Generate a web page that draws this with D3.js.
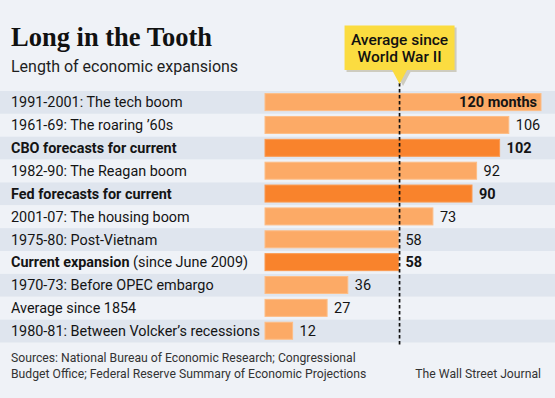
<!DOCTYPE html>
<html>
<head>
<meta charset="utf-8">
<script src="https://cdn.jsdelivr.net/npm/d3@7.9.0/dist/d3.min.js"></script>
<style>
  body { margin: 0; background: #eff2f7; }
  svg { display: block; font-family: Roboto, sans-serif; }
</style>
</head>
<body>
<svg id="chart" width="555" height="398"></svg>
<script>
// chart data
const categories = [
  '1991-2001: The tech boom',
  '1961-69: The roaring \u201960s',
  'CBO forecasts for current',
  '1982-90: The Reagan boom',
  'Fed forecasts for current',
  '2001-07: The housing boom',
  '1975-80: Post-Vietnam',
  'Current expansion',
  '1970-73: Before OPEC embargo',
  'Average since 1854',
  '1980-81: Between Volcker\u2019s recessions'
];
const notes = ['', '', '', '', '', '', '', ' (since June 2009)', '', '', ''];
const months = [120, 106, 102, 92, 90, 73, 58, 58, 36, 27, 12];
const highlighted = [false, false, true, false, true, false, false, true, false, false, false];
const avgSinceWWII = 58.5;

const svg = d3.select('#chart');
const W = 555;

let x = d3.scaleLinear().domain([0, 120]).range([265, 541]);
let y = d3.scaleBand().domain(d3.range(categories.length)).range([91, 342.5]);

// row stripes
svg.selectAll('rect.stripe')
  .data(categories)
  .join('rect')
  .attr('class', 'stripe')
  .attr('x', 0)
  .attr('y', (d, i) => y(i))
  .attr('width', W)
  .attr('height', y.bandwidth())
  .attr('fill', (d, i) => i % 2 === 0 ? '#dfe5ee' : '#eff2f7');

// bars
svg.selectAll('rect.bar')
  .data(months)
  .join('rect')
  .attr('class', 'bar')
  .attr('x', x(0))
  .attr('y', (d, i) => y(i) + 2.6)
  .attr('width', d => x(d) - x(0))
  .attr('height', 17)
  .attr('fill', (d, i) => highlighted[i] ? '#f9832c' : '#fcaa66')
  .attr('stroke', (d, i) => highlighted[i] ? '#fb9a50' : '#fdbd86')
  .attr('stroke-width', 1);

// category labels
let labels = svg.selectAll('text.cat')
  .data(categories)
  .join('text')
  .attr('class', 'cat')
  .attr('x', 11)
  .attr('y', (d, i) => y(i) + y.bandwidth() / 2 + 5)
  .attr('font-size', 14.4)
  .attr('fill', '#141414');
labels.append('tspan')
  .attr('font-weight', (d, i) => highlighted[i] ? 700 : 400)
  .text(d => d);
labels.append('tspan')
  .text((d, i) => notes[i]);

// value labels
svg.selectAll('text.val')
  .data(months)
  .join('text')
  .attr('class', 'val')
  .attr('x', (d, i) => i === 0 ? x(d) - 4 : x(d) + 7)
  .attr('y', (d, i) => y(i) + y.bandwidth() / 2 + 5)
  .attr('text-anchor', (d, i) => i === 0 ? 'end' : 'start')
  .attr('font-size', 14.5)
  .attr('font-weight', (d, i) => (i === 0 || highlighted[i]) ? 700 : 400)
  .attr('fill', '#141414')
  .text((d, i) => i === 0 ? d + ' months' : d);

// average line
const ax = x(avgSinceWWII);
svg.append('line')
  .attr('x1', ax).attr('x2', ax)
  .attr('y1', 83).attr('y2', 346)
  .attr('stroke', '#111')
  .attr('stroke-width', 1.7)
  .attr('stroke-dasharray', '3.5,2.5');

// callout
const box = { w: 110, top: 25.5, bottom: 70 };
let callout = svg.append('g');
callout.append('path')
  .attr('d', `M${ax - box.w / 2 + 2},${box.top + 2}h${box.w}v${box.bottom - box.top}h${-(box.w / 2 - 9)}l-7.5,14l-7.5,-14h${-(box.w / 2 - 6)}z`)
  .attr('fill', '#b8b39a')
  .attr('opacity', 0.6);
callout.append('path')
  .attr('d', `M${ax - box.w / 2},${box.top}h${box.w}v${box.bottom - box.top}h${-(box.w / 2 - 7.5)}l-7.5,14l-7.5,-14h${-(box.w / 2 - 7.5)}z`)
  .attr('fill', '#fbdc40');
callout.selectAll('text')
  .data(['Average since', 'World War II'])
  .join('text')
  .attr('x', ax)
  .attr('y', (d, i) => 44.5 + i * 17.5)
  .attr('text-anchor', 'middle')
  .attr('font-size', 15.5)
  .attr('font-weight', 500)
  .attr('fill', '#111')
  .text(d => d);

// titles
svg.append('text')
  .attr('x', 11).attr('y', 45.5)
  .attr('font-family', '"Liberation Serif", serif')
  .attr('font-weight', 700)
  .attr('font-size', 26.5)
  .attr('fill', '#111')
  .text('Long in the Tooth');
svg.append('text')
  .attr('x', 11).attr('y', 72)
  .attr('font-size', 16)
  .attr('fill', '#1e1e1e')
  .text('Length of economic expansions');

// sources
svg.selectAll('text.src')
  .data(['Sources: National Bureau of Economic Research; Congressional',
         'Budget Office; Federal Reserve Summary of Economic Projections'])
  .join('text')
  .attr('class', 'src')
  .attr('x', 11)
  .attr('y', (d, i) => 362 + i * 15.5)
  .attr('font-size', 12.2)
  .attr('fill', '#333')
  .text(d => d);
svg.append('text')
  .attr('x', 541).attr('y', 377.5)
  .attr('text-anchor', 'end')
  .attr('font-size', 12.2)
  .attr('fill', '#333')
  .text('The Wall Street Journal');
</script>
</body>
</html>
